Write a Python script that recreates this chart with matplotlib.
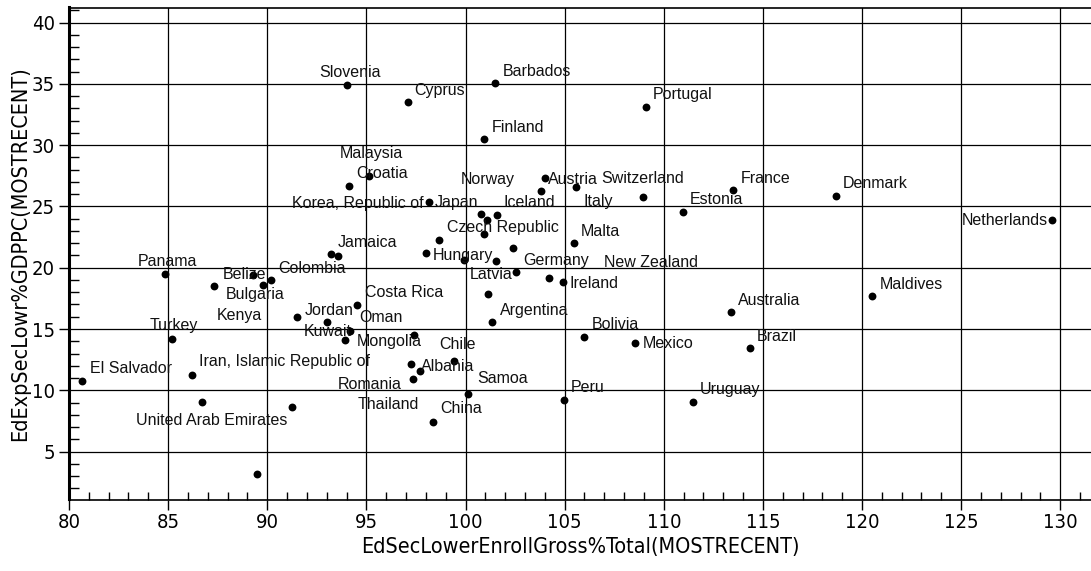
import matplotlib
matplotlib.use('Agg')
import matplotlib.pyplot as plt
from matplotlib import font_manager
from matplotlib.ticker import MultipleLocator

# lower secondary enrolment (x) vs expenditure per student as % of GDP per capita (y)
countries = [
    'Slovenia', 'Cyprus', 'Barbados', 'Portugal', 'Finland', 'Croatia', 'Malaysia',
    'Korea, Republic of', 'Japan', '', 'Iceland', 'Czech Republic', '', 'Hungary',
    '', '', '', 'Germany', 'New Zealand', 'Ireland', 'Malta', 'Austria', 'Norway',
    'Italy', 'Switzerland', 'Estonia', 'France', 'Denmark', 'Netherlands', 'Maldives',
    'Australia', 'Brazil', 'Mexico', 'Bolivia', 'Uruguay', 'Peru', 'Samoa', 'China',
    'Chile', 'Thailand', 'Albania', 'Romania', 'Mongolia', 'Latvia', 'Argentina',
    'Costa Rica', 'Oman', 'Kuwait', 'Jordan', 'Kenya', 'Jamaica', '', 'Colombia', '',
    'Belize', 'Bulgaria', 'Panama', 'Turkey', 'El Salvador', 'Iran, Islamic Republic of',
    '', 'United Arab Emirates', '',
]
enroll = [
    94.0, 97.08, 101.47, 109.1, 100.95, 94.13, 95.14,
    98.17, 100.79, 101.06, 101.58, 100.95, 98.67, 97.99,
    99.92, 102.38, 101.52, 102.54, 104.19, 104.91, 105.48, 104.02, 103.79,
    105.58, 108.93, 110.97, 113.51, 118.7, 129.57, 120.52,
    113.41, 114.35, 108.53, 105.99, 111.47, 104.98, 100.12, 98.37,
    99.43, 97.25, 97.7, 97.33, 97.41, 101.15, 101.35,
    94.51, 94.17, 93.92, 92.99, 91.48, 93.24, 93.58, 90.17, 89.79,
    89.26, 87.32, 84.85, 85.2, 80.66, 86.18,
    86.72, 91.26, 89.46,
]
expend = [
    34.9, 33.5, 35.05, 33.14, 30.5, 26.7, 27.52,
    25.4, 24.4, 23.91, 24.32, 22.79, 22.28, 21.19,
    20.65, 21.57, 20.51, 19.61, 19.16, 18.8, 22.01, 27.31, 26.22,
    26.57, 25.81, 24.58, 26.3, 25.89, 23.88, 17.69,
    16.35, 13.45, 13.86, 14.35, 9.05, 9.24, 9.73, 7.42,
    12.36, 12.17, 11.6, 10.95, 14.54, 17.88, 15.57,
    16.98, 14.8, 14.07, 15.57, 15.98, 21.14, 20.97, 18.99, 18.55,
    19.37, 18.47, 19.48, 14.18, 10.79, 11.22,
    9.02, 8.64, 3.18,
]

# label placement: offset in pixels from the point to the left edge / middle of the text
label_offsets = {
    'Slovenia': (-27, 13), 'Cyprus': (7, 12), 'Barbados': (8, 12), 'Portugal': (7, 12),
    'Finland': (7, 12), 'Croatia': (7, 12), 'Malaysia': (-29, 22),
    'Korea, Republic of': (-137, -2), 'Japan': (-46, 11), 'Iceland': (7, 12),
    'Czech Republic': (-37, 6), 'Hungary': (7, -2), 'Germany': (7, 12),
    'New Zealand': (55, 16), 'Ireland': (7, -1), 'Malta': (7, 12), 'Austria': (3, -1),
    'Norway': (-80, 12), 'Italy': (7, -14), 'Switzerland': (-41, 18), 'Estonia': (7, 12),
    'France': (7, 12), 'Denmark': (7, 12), 'Netherlands': (-90, 0), 'Maldives': (7, 12),
    'Australia': (7, 12), 'Brazil': (7, 12), 'Mexico': (8, -1), 'Bolivia': (7, 12),
    'Uruguay': (7, 12), 'Peru': (7, 12), 'Samoa': (9, 15), 'China': (7, 13),
    'Chile': (-15, 17), 'Thailand': (-53, -41), 'Albania': (1, 4), 'Romania': (-75, -6),
    'Mongolia': (-57, -7), 'Latvia': (-19, 19), 'Argentina': (8, 12), 'Costa Rica': (8, 12),
    'Oman': (9, 14), 'Kuwait': (-41, 9), 'Jordan': (-22, 12), 'Kenya': (-80, 1),
    'Jamaica': (6, 11), 'Colombia': (8, 12), 'Belize': (-30, 1), 'Bulgaria': (12, -8),
    'Panama': (-27, 13), 'Turkey': (-22, 14), 'El Salvador': (8, 12),
    'Iran, Islamic Republic of': (7, 14), 'United Arab Emirates': (-156, -14),
}

# axis text in the original is a narrow sans; use a regular-weight one if available
narrow = None
for f in font_manager.fontManager.ttflist:
    if f.weight not in (400, 'normal', 'regular', 'book') or f.style != 'normal':
        continue
    if f.name in ('Liberation Sans Narrow', 'Roboto Condensed', 'Open Sans Condensed') \
            or (f.name == 'DejaVu Sans' and f.stretch == 'condensed'):
        narrow = f
        break
if narrow is not None:
    tick_font = font_manager.FontProperties(fname=narrow.fname, size=14.5)
    title_font = font_manager.FontProperties(fname=narrow.fname, size=15.5)
else:
    tick_font = font_manager.FontProperties(family='Liberation Sans', size=15)
    title_font = font_manager.FontProperties(family='Liberation Sans', size=15)
label_font = ['Liberation Sans', 'DejaVu Sans']

fig = plt.figure(figsize=(10.91, 5.71), dpi=100)
ax = fig.add_axes([69 / 1091, 1 - 499.5 / 571, 1 - 69 / 1091, (499.5 - 7.5) / 571])

ax.scatter(enroll, expend, s=32, color='black', zorder=3, linewidths=0)

for name, x, y in zip(countries, enroll, expend):
    if not name:
        continue
    dx, dy = label_offsets[name]
    ax.annotate(name, (x, y), xytext=(dx, dy), textcoords='offset pixels',
                ha='left', va='center', fontsize=11.5, family=label_font,
                color='#111111', zorder=4)

ax.set_xlim(80, 131.55)
ax.set_ylim(1.09, 41.23)

ax.xaxis.set_major_locator(MultipleLocator(5))
ax.xaxis.set_minor_locator(MultipleLocator(1))
ax.yaxis.set_major_locator(MultipleLocator(5))
ax.yaxis.set_minor_locator(MultipleLocator(1))
ax.set_yticks([5, 10, 15, 20, 25, 30, 35, 40])

ax.grid(True, which='major', color='black', linewidth=0.9, zorder=1)
ax.tick_params(which='major', direction='out', length=7, width=1, color='black', pad=3)
ax.tick_params(axis='x', which='minor', direction='in', length=6, width=1, color='black')
ax.tick_params(axis='y', which='minor', direction='in', length=7, width=1, color='black')
for lbl in ax.get_xticklabels() + ax.get_yticklabels():
    lbl.set_fontproperties(tick_font)

ax.spines['right'].set_visible(False)
for side in ['left', 'top', 'bottom']:
    ax.spines[side].set_linewidth(1.2)
ax.spines['left'].set_linewidth(2.2)

ax.set_xlabel('EdSecLowerEnrollGross%Total(MOSTRECENT)', fontproperties=title_font,
              labelpad=3)
ax.set_ylabel('EdExpSecLowr%GDPPC(MOSTRECENT)', fontproperties=title_font,
              labelpad=1)

fig.savefig('out.png', dpi=100)
